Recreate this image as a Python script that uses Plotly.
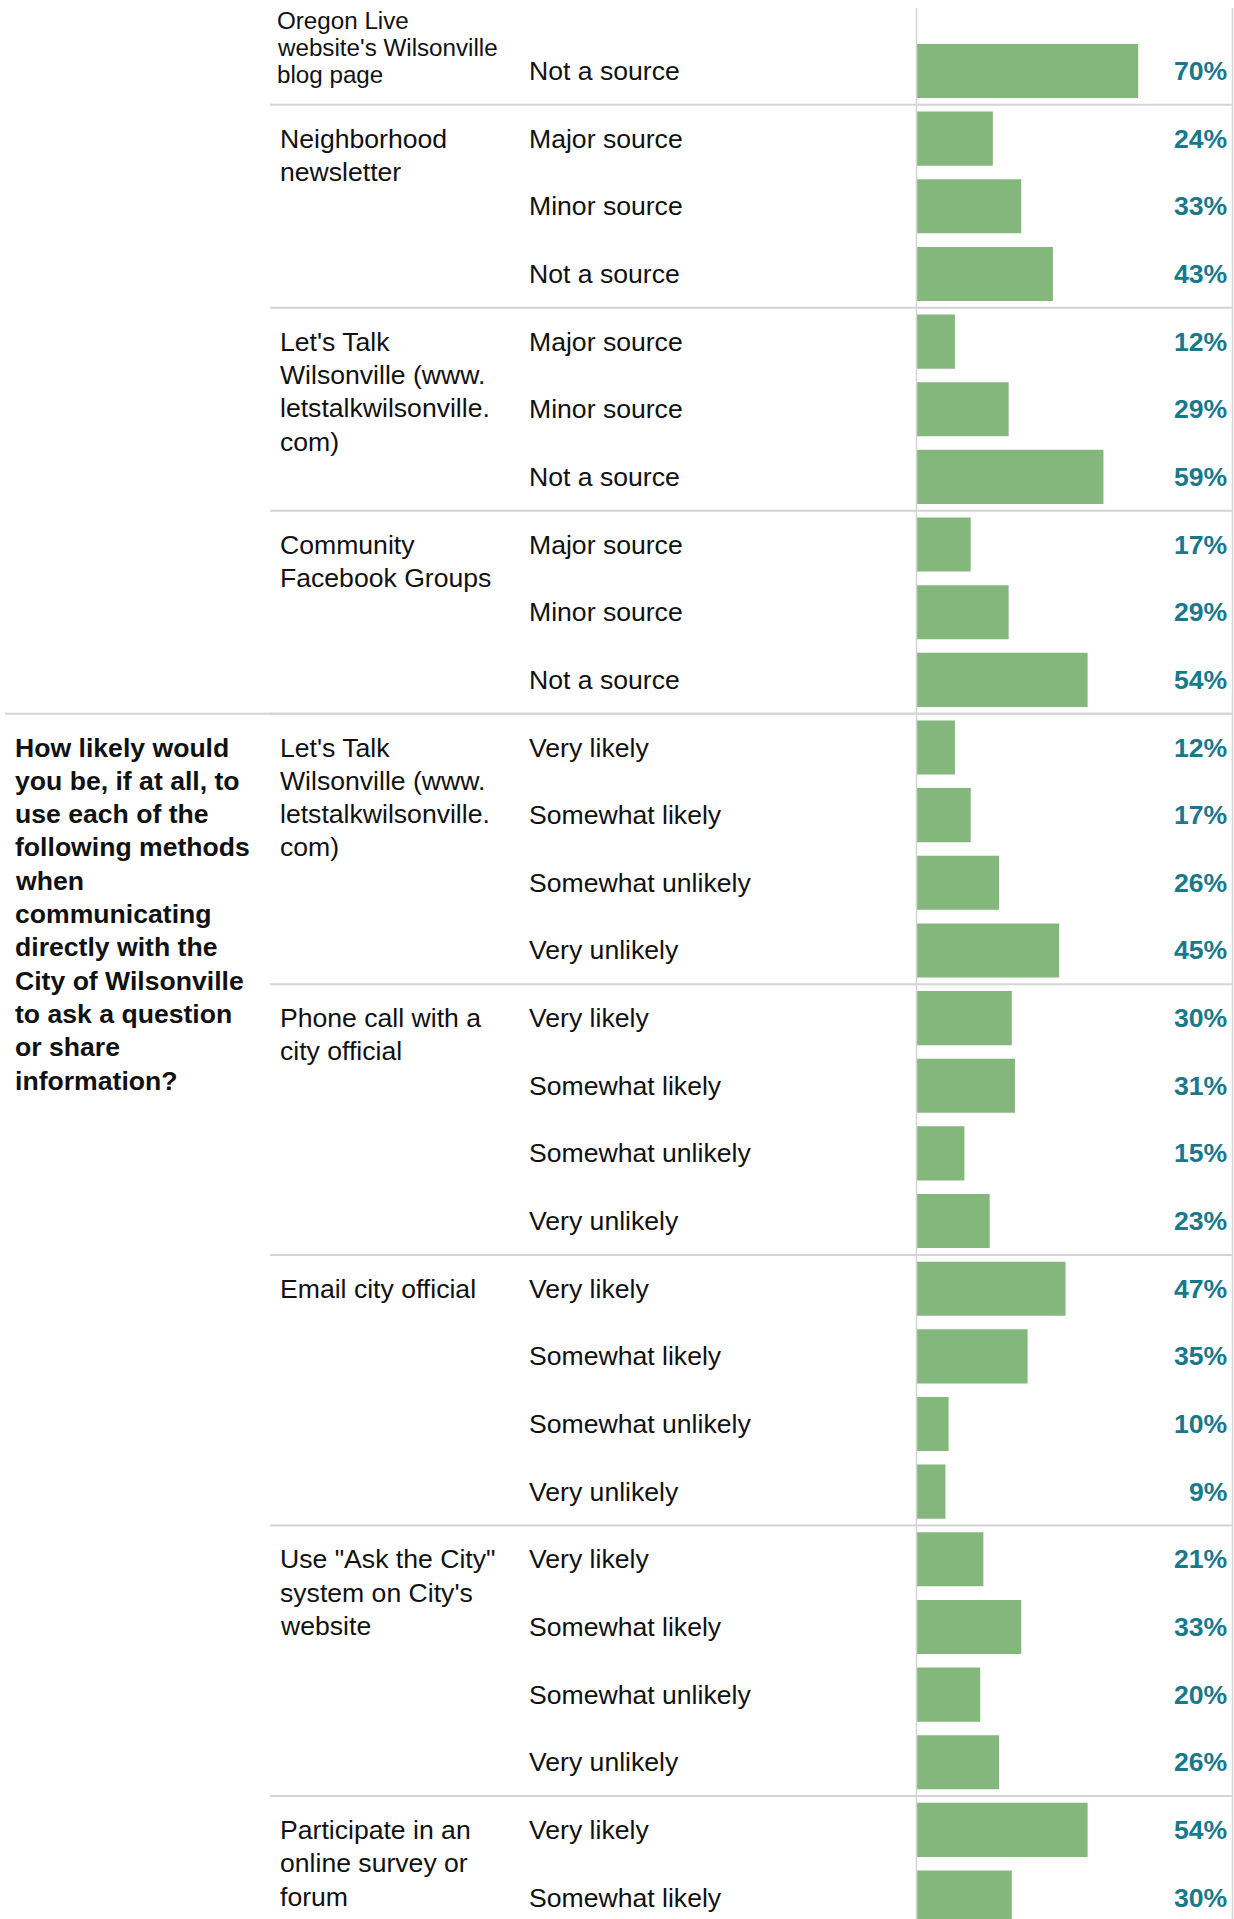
import plotly.graph_objects as go

# ---------------- data ----------------
question_labels = ["", "How likely would<br>you be, if at all, to<br>use each of the<br>following methods<br>when<br>communicating<br>directly with the<br>City of Wilsonville<br>to ask a question<br>or share<br>information?"]
question_sizes = [10, 18]

group_labels = [
    "Oregon Live<br>website's Wilsonville<br>blog page",
    "Neighborhood<br>newsletter",
    "Let's Talk<br>Wilsonville (www.<br>letstalkwilsonville.<br>com)",
    "Community<br>Facebook Groups",
    "Let's Talk<br>Wilsonville (www.<br>letstalkwilsonville.<br>com)",
    "Phone call with a<br>city official",
    "Email city official",
    "Use \"Ask the City\"<br>system on City's<br>website",
    "Participate in an<br>online survey or<br>forum",
]
group_sizes = [1, 3, 3, 3, 4, 4, 4, 4, 2]

responses = [
    "Not a source",
    "Major source", "Minor source", "Not a source",
    "Major source", "Minor source", "Not a source",
    "Major source", "Minor source", "Not a source",
    "Very likely", "Somewhat likely", "Somewhat unlikely", "Very unlikely",
    "Very likely", "Somewhat likely", "Somewhat unlikely", "Very unlikely",
    "Very likely", "Somewhat likely", "Somewhat unlikely", "Very unlikely",
    "Very likely", "Somewhat likely", "Somewhat unlikely", "Very unlikely",
    "Very likely", "Somewhat likely",
]
values = [70, 24, 33, 43, 12, 29, 59, 17, 29, 54,
          12, 17, 26, 45, 30, 31, 15, 23, 47, 35, 10, 9,
          21, 33, 20, 26, 54, 30]

# ---------------- style / layout ----------------
W, H = 1234, 1919
ROW_PX = 67.65
TOP_ROW_CENTER_PX = 71
BAR_COLOR = "#84b77b"
PCT_COLOR = "#18798c"
LINE_COLOR = "#d4d4d4"
TXT_COLOR = "#111111"
FONT = "Liberation Sans, Arial, Helvetica, sans-serif"
FS = 26.6
LINE_STEP = 33.3 / ROW_PX

rows = list(range(len(values)))
y_top = -TOP_ROW_CENTER_PX / ROW_PX
y_bottom = y_top + H / ROW_PX

def px(x):
    return x / W

fig = go.Figure(go.Bar(
    y=rows, x=values, orientation="h",
    marker=dict(color=BAR_COLOR, line=dict(width=0)),
    width=0.8, hoverinfo="skip",
))

annotations = []
# response labels + percentages
for r, (lab, v) in enumerate(zip(responses, values)):
    annotations.append(dict(x=px(527), y=r, xref="paper", yref="y", text=lab,
                            xanchor="left", yanchor="middle", showarrow=False,
                            font=dict(family=FONT, size=FS, color=TXT_COLOR)))
    annotations.append(dict(x=px(1229), y=r, xref="paper", yref="y", text=f"<b>{v}%</b>",
                            xanchor="right", yanchor="middle", showarrow=False,
                            font=dict(family=FONT, size=26.6, color=PCT_COLOR)))

# group labels
start = 0
shapes = []
for gi, (lab, n) in enumerate(zip(group_labels, group_sizes)):
    lines = lab.split("<br>")
    if gi == 0:
        # top label is cut off above: bottom line aligned with the row
        for k, ln in enumerate(lines):
            annotations.append(dict(x=px(275), y=start + (3 - (len(lines) - 1 - k) * 27) / ROW_PX,
                                    xref="paper", yref="y", text=ln,
                                    xanchor="left", yanchor="middle", showarrow=False,
                                    font=dict(family=FONT, size=24.2, color=TXT_COLOR)))
    else:
        for k, ln in enumerate(lines):
            annotations.append(dict(x=px(278), y=start + k * LINE_STEP,
                                    xref="paper", yref="y", text=ln,
                                    xanchor="left", yanchor="middle", showarrow=False,
                                    font=dict(family=FONT, size=FS, color=TXT_COLOR)))
    start += n
    if start < len(values):
        shapes.append(dict(type="line", xref="paper", yref="y",
                           x0=px(270), x1=px(1233), y0=start - 0.5, y1=start - 0.5,
                           line=dict(color=LINE_COLOR, width=2)))

# question labels
start = 0
for lab, n in zip(question_labels, question_sizes):
    if lab:
        for k, ln in enumerate(lab.split("<br>")):
            annotations.append(dict(x=px(13), y=start + k * LINE_STEP,
                                    xref="paper", yref="y", text=f"<b>{ln}</b>",
                                    xanchor="left", yanchor="middle", showarrow=False,
                                    font=dict(family=FONT, size=FS, color=TXT_COLOR)))
    start += n
    if 0 < start < len(values):
        shapes.append(dict(type="line", xref="paper", yref="y",
                           x0=px(5), x1=px(1233), y0=start - 0.5, y1=start - 0.5,
                           line=dict(color=LINE_COLOR, width=2)))

# vertical rules (zero line of bars and right border)
for xv in (916.5, 1232.5):
    shapes.append(dict(type="line", xref="paper", yref="paper",
                       x0=px(xv), x1=px(xv), y0=1 - 8 / H, y1=0,
                       line=dict(color=LINE_COLOR, width=1.5)))

fig.update_layout(
    width=W, height=H,
    margin=dict(l=0, r=0, t=0, b=0),
    paper_bgcolor="white", plot_bgcolor="white",
    showlegend=False,
    xaxis=dict(domain=[px(917), px(1233)], range=[0, 100], visible=False, fixedrange=True),
    yaxis=dict(domain=[0, 1], range=[y_bottom, y_top], visible=False, fixedrange=True),
    annotations=annotations,
    shapes=shapes,
    font=dict(family=FONT),
)

fig.write_html("out.html", config={"displayModeBar": False},
               post_script="document.body.style.margin='0';document.documentElement.style.overflow='hidden';")
